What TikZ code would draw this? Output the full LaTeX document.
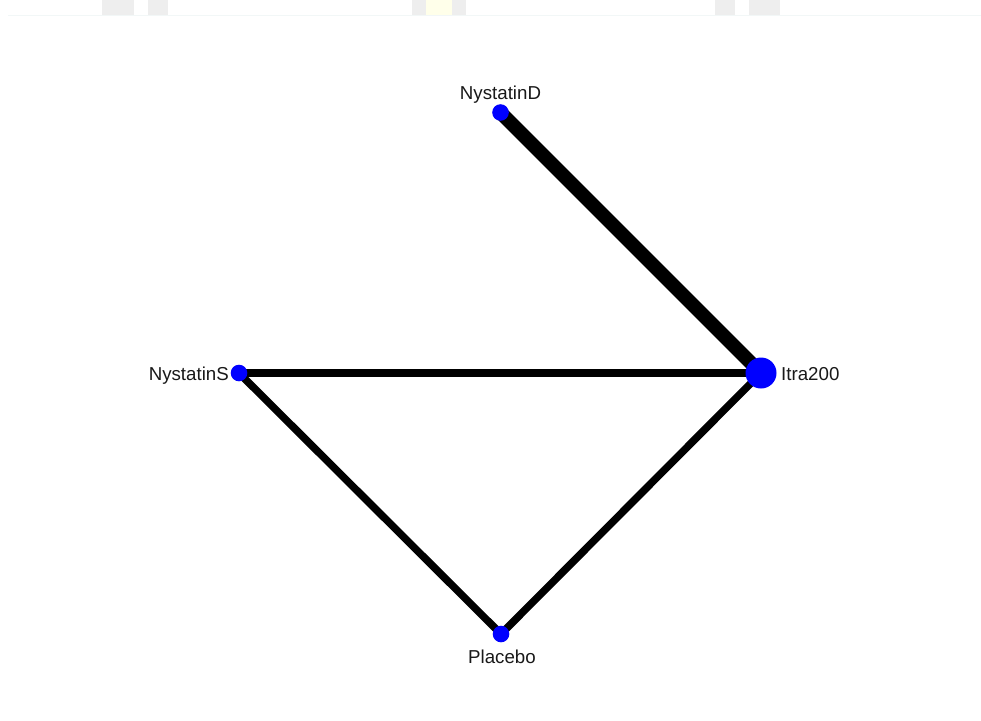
\documentclass[tikz,border=0pt]{standalone}
\usepackage{fontspec}
\setmainfont{Liberation Sans}
\usetikzlibrary{backgrounds}
\definecolor{vtx}{HTML}{0000FF}
\definecolor{tabgray}{HTML}{EEEEEE}
\definecolor{tabyellow}{HTML}{FFFFEA}
\definecolor{rule}{HTML}{F2F7F7}
\begin{document}
\begin{tikzpicture}[x=1pt,y=-1pt,
  vertex/.style={circle,fill=vtx,draw=none,inner sep=0pt,minimum size=#1},
  vertex/.default=16.6pt,
  edge/.style={line width=#1,black},
  lbl/.style={font=\fontsize{18.7}{22}\selectfont,inner sep=0pt,text=black!90}]
\useasboundingbox (0,0) rectangle (981,720);

% vertices
\node[vertex] (nd) at (500.5,112.5) {};
\node[vertex] (ns) at (239,373) {};
\node[vertex=31pt] (it) at (761,373) {};
\node[vertex] (pl) at (501,634) {};

% edges, kept behind the vertices
\begin{pgfonlayer}{background}
\fill[white] (0,0) rectangle (981,720);
% faint header strip
\fill[tabgray] (102,0) rectangle (134,14.7);
\fill[tabgray] (148,0) rectangle (168,14.7);
\fill[tabgray] (412,0) rectangle (426,14.7);
\fill[tabyellow] (426,0) rectangle (452,14.7);
\fill[tabgray] (452,0) rectangle (466,14.7);
\fill[tabgray] (715,0) rectangle (735,14.7);
\fill[tabgray] (749,0) rectangle (780,14.7);
\draw[rule,line width=1pt] (8,15) -- (981,15);
\draw[edge=14pt] (nd.center) -- (it.center);
\draw[edge=7.5pt] (ns.center) -- (it.center);
\draw[edge=7.5pt] (ns.center) -- (pl.center);
\draw[edge=7.5pt] (pl.center) -- (it.center);
\end{pgfonlayer}

% labels
\node[lbl,anchor=base] (ndl) at (500.5,99) {NystatinD};
\node[lbl,anchor=base east] (nsl) at (229,380) {NystatinS};
\node[lbl,anchor=base west] (itl) at (781,380.5) {Itra200};
\node[lbl,anchor=base] (pll) at (502,663) {Placebo};
\end{tikzpicture}
\end{document}
